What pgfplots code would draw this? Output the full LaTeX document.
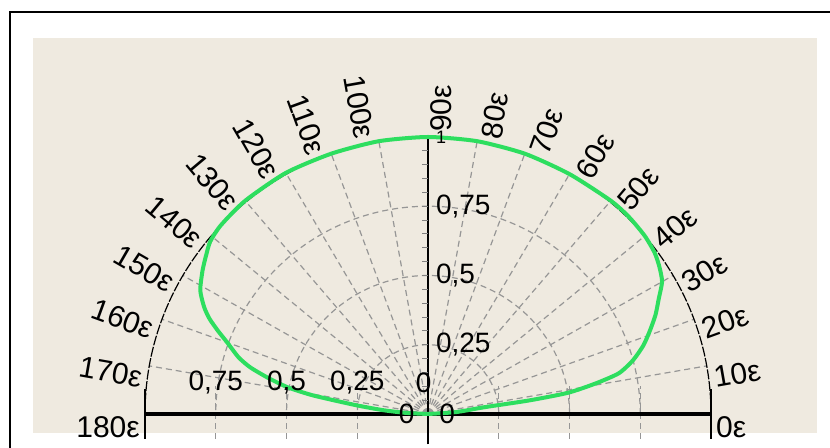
\documentclass[border=0pt]{standalone}
\usepackage{fontspec}
\setmainfont{Liberation Sans}
\usepackage{pgfplots}
\pgfplotsset{compat=1.18}
\definecolor{beige}{RGB}{239,234,224}
\definecolor{curvegreen}{RGB}{45,222,95}
\definecolor{gridgray}{RGB}{150,150,150}
\begin{document}
\begin{tikzpicture}
\begin{scope}[x=0.5pt,y=0.5pt]
\path[use as bounding box] (0,0) rectangle (830,448);
\fill[white] (0,0) rectangle (830,448);
\fill[beige] (33,15) rectangle (817,410);
\draw[black, line width=0.8pt] (10,0) -- (10,436) -- (830,436);
\end{scope}
\begin{axis}[at={(72.5pt,17pt)}, anchor=south west, x=141.5pt, y=138.5pt,
  xmin=-1, xmax=1, ymin=0, ymax=1, hide axis, clip=false, enlargelimits=false]
% grid circles
\pgfplotsinvokeforeach{0.25,0.5,0.75}{
  \draw[gridgray, line width=0.6pt, dash pattern=on 3pt off 2pt]
    (axis cs:#1,0) arc[start angle=0, end angle=180, x radius=#1*141.5pt, y radius=#1*138.5pt];
}
% radial lines
\pgfplotsinvokeforeach{10,20,...,170}{
  \draw[gridgray, line width=0.6pt, dash pattern=on 3pt off 2pt]
    (axis cs:0,0) -- (axis cs:{cos(#1)},{sin(#1)});
}
% small vertical grid segments below axis
\pgfplotsinvokeforeach{-0.75,-0.5,-0.25,0.25,0.5,0.75}{
  \draw[gridgray, line width=0.6pt, dash pattern=on 3pt off 2pt]
    (axis cs:#1,-0.09) -- (axis cs:#1,0.1);
}
% outer arc
\draw[black, line width=0.6pt, dash pattern=on 5pt off 0.8pt]
  (axis cs:1,0) arc[start angle=0, end angle=180, x radius=141.5pt, y radius=138.5pt];
\draw[black, line width=0.6pt] (axis cs:1,-0.09) -- (axis cs:1,0.09);
\draw[black, line width=0.6pt] (axis cs:-1,-0.09) -- (axis cs:-1,0.09);
% axes
\draw[black, line width=2pt] (axis cs:-1,0) -- (axis cs:1,0);
\draw[black, line width=1.4pt] (axis cs:0,-0.11) -- (axis cs:0,1);
\pgfplotsinvokeforeach{0.05,0.1,...,0.96}{
  \draw[gray, line width=0.5pt] (axis cs:0,#1) -- ([xshift=-3pt]axis cs:0,#1);
}
\draw[black, line width=0.6pt] (axis cs:0,1) -- ([xshift=4pt]axis cs:0,1);
% curve
\addplot[curvegreen, line width=2pt, data cs=polar, smooth, tension=0.4] coordinates {
(0,0) (4,0.1) (7,0.2) (7.8,0.36) (8.8,0.5) (10.5,0.6) (12.3,0.69) (15,0.75)
(18,0.80) (21,0.84) (24,0.88) (27,0.915) (30,0.955) (33,0.975) (36,0.99)
(40,1.0) (45,1.005) (50,1.005) (60,1.0) (70,1.0) (80,1.0) (90,1.0) (100,1.0)
(110,1.0) (120,1.005) (130,1.005) (137,1.0) (141,0.99) (144,0.97) (147,0.95)
(151,0.92) (154,0.88) (156,0.845) (158,0.80) (160,0.755) (163,0.70) (165,0.65)
(167,0.58) (169,0.505) (170.5,0.42) (171.5,0.34) (173,0.25) (175,0.16) (177,0.08) (180,0)
};
% angle labels
\pgfplotsinvokeforeach{0,10,...,90}{
  \node[rotate=#1, anchor=north west, inner sep=1pt, font=\fontsize{15}{17}\selectfont]
    at (axis cs:{1.01*cos(#1)},{1.01*sin(#1)}) {#1ε};
}
\pgfplotsinvokeforeach{100,110,...,180}{
  \node[rotate=#1-180, anchor=north east, inner sep=1pt, font=\fontsize{15}{17}\selectfont]
    at (axis cs:{1.01*cos(#1)},{1.01*sin(#1)}) {#1ε};
}
% value labels
\node[anchor=west, inner sep=1pt, font=\fontsize{14}{16}\selectfont] at (axis cs:0.02,0.75) {0,75};
\node[anchor=west, inner sep=1pt, font=\fontsize{14}{16}\selectfont] at (axis cs:0.02,0.5) {0,5};
\node[anchor=west, inner sep=1pt, font=\fontsize{14}{16}\selectfont] at (axis cs:0.02,0.25) {0,25};
\node[anchor=west, inner sep=1pt, font=\fontsize{9}{10}\selectfont] at (axis cs:0.02,1) {1};
\node[inner sep=1pt, font=\fontsize{14}{16}\selectfont] at (axis cs:-0.75,0.112) {0,75};
\node[inner sep=1pt, font=\fontsize{14}{16}\selectfont] at (axis cs:-0.5,0.112) {0,5};
\node[inner sep=1pt, font=\fontsize{14}{16}\selectfont] at (axis cs:-0.25,0.112) {0,25};
\node[inner sep=1pt, font=\fontsize{14}{16}\selectfont] at (axis cs:-0.015,0.112) {0};
\node[inner sep=1pt, font=\fontsize{14}{16}\selectfont] at (axis cs:-0.075,0) {0};
\node[inner sep=1pt, font=\fontsize{14}{16}\selectfont] at (axis cs:0.068,0) {0};
\end{axis}
\end{tikzpicture}
\end{document}
